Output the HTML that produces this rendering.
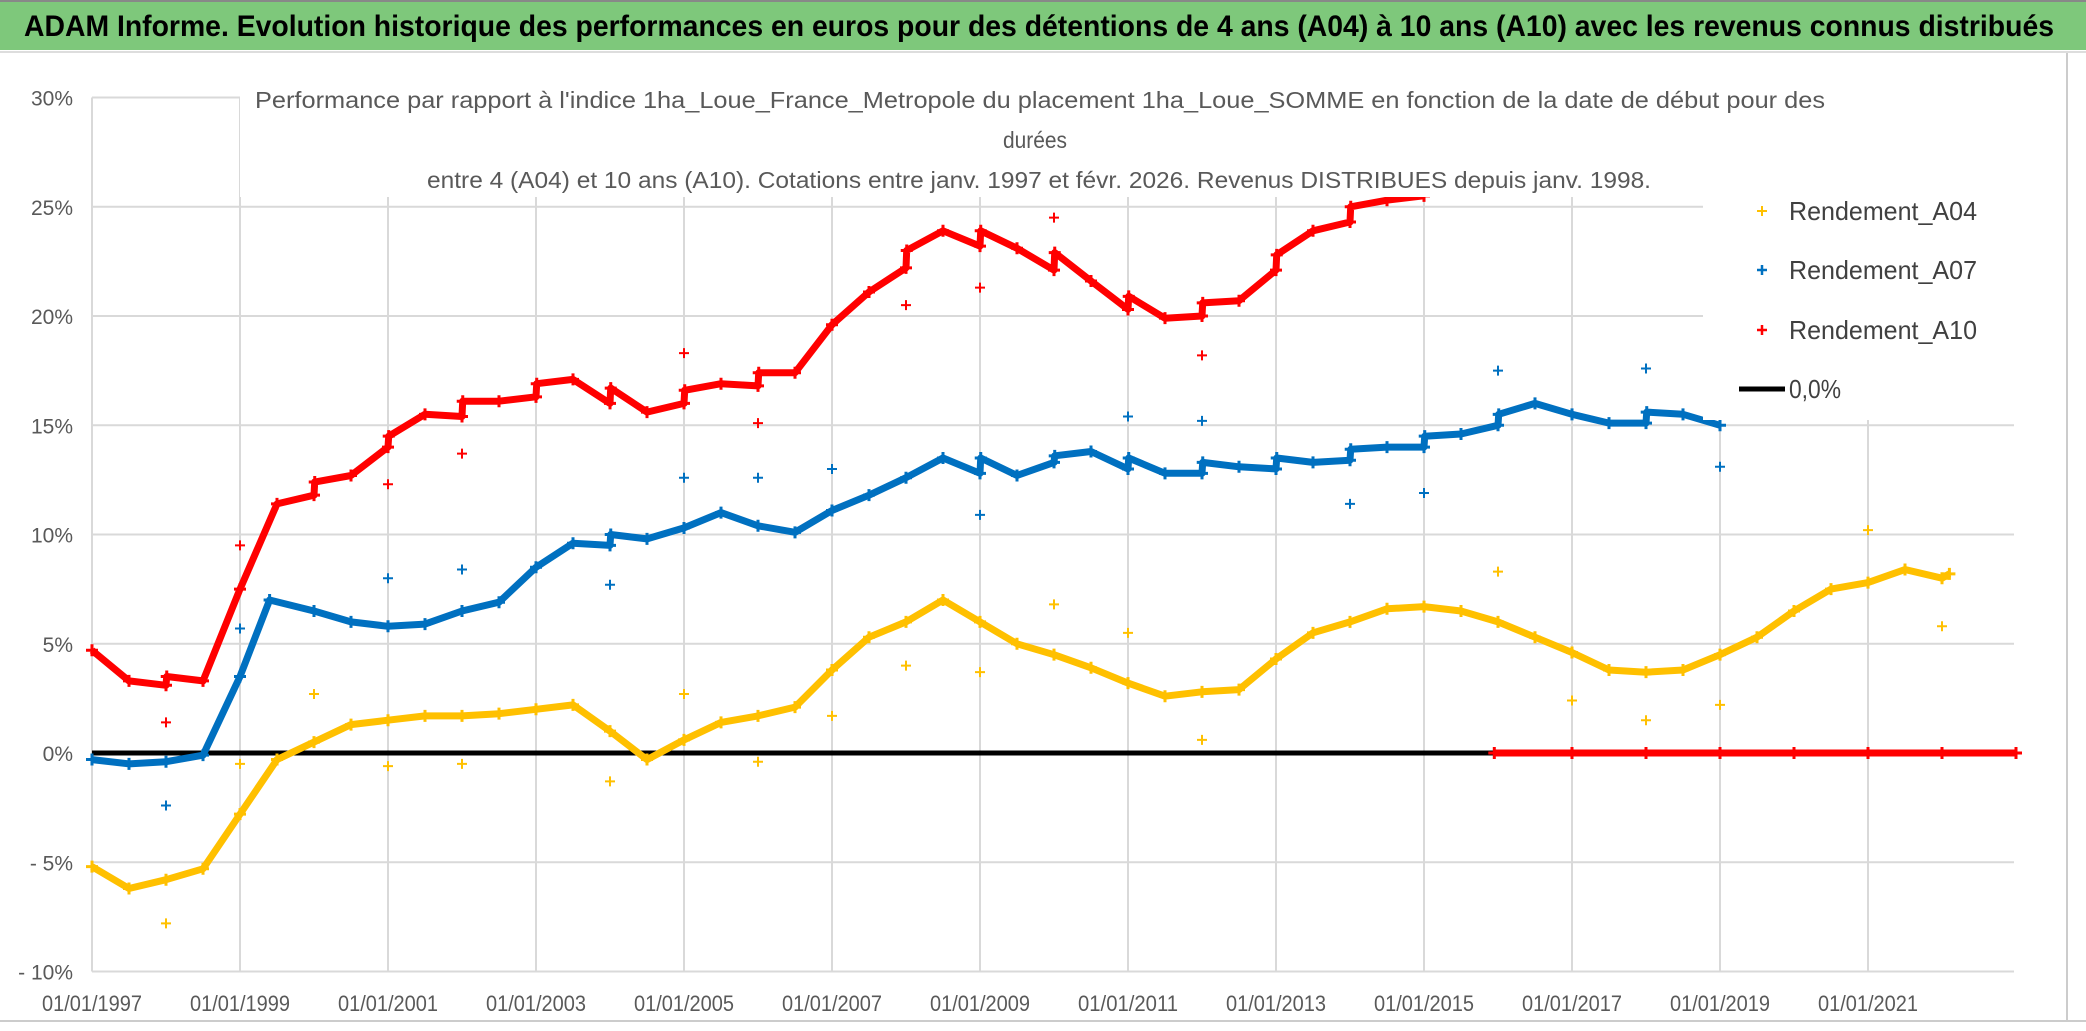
<!DOCTYPE html>
<html><head><meta charset="utf-8"><style>
html,body{margin:0;padding:0;background:#fff;}
svg{display:block;font-family:"Liberation Sans",sans-serif;}
</style></head><body>
<svg id="chart" width="2086" height="1031" viewBox="0 0 2086 1031">
<rect x="0" y="0" width="2086" height="1031" fill="#fff"/>
<rect x="0" y="0" width="2086" height="50" fill="#7ec87b"/>
<rect x="0" y="0" width="2086" height="2" fill="#888"/>
<rect x="0" y="51" width="2086" height="2" fill="#ddd"/>
<text x="24" y="36" font-size="30" font-weight="bold" fill="#000" textLength="2030" lengthAdjust="spacingAndGlyphs">ADAM Informe. Evolution historique des performances en euros pour des détentions de 4 ans (A04) à 10 ans (A10) avec les revenus connus distribués</text>
<rect x="2066" y="53" width="2" height="968" fill="#ccc"/>
<rect x="0" y="1020" width="2086" height="2" fill="#ccc"/>
<g id="grid"></g>
<g id="axes"></g>
<g id="series"></g>
<rect x="240" y="60" width="1803" height="137" fill="#fff"/>
<rect x="1703" y="196" width="340" height="224" fill="#fff"/>
<text x="255" y="108" font-size="23" fill="#595959" textLength="1570" lengthAdjust="spacingAndGlyphs">Performance par rapport à l'indice 1ha_Loue_France_Metropole  du placement 1ha_Loue_SOMME en fonction de la date de début pour des</text>
<text x="1003" y="148" font-size="23" fill="#595959" textLength="64" lengthAdjust="spacingAndGlyphs">durées</text>
<text x="427" y="188" font-size="23" fill="#595959" textLength="1224" lengthAdjust="spacingAndGlyphs">entre 4 (A04) et 10 ans (A10). Cotations entre janv. 1997 et févr. 2026. Revenus DISTRIBUES depuis janv. 1998.</text>
<g>
<g>
<path d="M1757 211h10M1762 206v10" stroke="#ffc000" stroke-width="2"/>
<text x="1789" y="220" font-size="26" fill="#404040" textLength="188" lengthAdjust="spacingAndGlyphs">Rendement_A04</text></g>
<g>
<path d="M1757 270h10M1762 265v10" stroke="#0070c0" stroke-width="2.5"/>
<text x="1789" y="279" font-size="26" fill="#404040" textLength="188" lengthAdjust="spacingAndGlyphs">Rendement_A07</text></g>
<g>
<path d="M1757 330h10M1762 325v10" stroke="#ff0000" stroke-width="2.5"/>
<text x="1789" y="339" font-size="26" fill="#404040" textLength="188" lengthAdjust="spacingAndGlyphs">Rendement_A10</text></g>
<g>
<line x1="1739" y1="389" x2="1785" y2="389" stroke="#000" stroke-width="5"/>
<text x="1789" y="398" font-size="26" fill="#404040" textLength="52" lengthAdjust="spacingAndGlyphs">0,0%</text></g>
</g>
</svg>
<script>
const yTicks=[30,25,20,15,10,5,0,-5,-10];
const yTickLabels=["30%","25%","20%","15%","10%","5%","0%","- 5%","- 10%"];
const xTicks=[1997,1999,2001,2003,2005,2007,2009,2011,2013,2015,2017,2019,2021];
const xTickLabels=["01/01/1997","01/01/1999","01/01/2001","01/01/2003","01/01/2005","01/01/2007","01/01/2009","01/01/2011","01/01/2013","01/01/2015","01/01/2017","01/01/2019","01/01/2021"];
const a04Dates=[1997,1997.5,1998,1998.5,1999,1999.5,2000,2000.5,2001,2001.5,2002,2002.5,2003,2003.5,2004,2004.5,2005,2005.5,2006,2006.5,2007,2007.5,2008,2008.5,2009,2009.5,2010,2010.5,2011,2011.5,2012,2012.5,2013,2013.5,2014,2014.5,2015,2015.5,2016,2016.5,2017,2017.5,2018,2018.5,2019,2019.5,2020,2020.5,2021,2021.5,2022,2022.1];
const a04Values=[-5.2,-6.2,-5.8,-5.3,-2.8,-0.3,0.5,1.3,1.5,1.7,1.7,1.8,2.0,2.2,1.0,-0.3,0.6,1.4,1.7,2.1,3.8,5.3,6.0,7.0,6.0,5.0,4.5,3.9,3.2,2.6,2.8,2.9,4.3,5.5,6.0,6.6,6.7,6.5,6.0,5.3,4.6,3.8,3.7,3.8,4.5,5.3,6.5,7.5,7.8,8.4,8.0,8.2];
const a04OutDates=[1998,1999,2000,2001,2002,2004,2005,2006,2007,2008,2009,2010,2011,2012,2016,2017,2018,2019,2021,2022];
const a04OutValues=[-7.8,-0.5,2.7,-0.6,-0.5,-1.3,2.7,-0.4,1.7,4.0,3.7,6.8,5.5,0.6,8.3,2.4,1.5,2.2,10.2,5.8];
const a07Dates=[1997,1997.5,1998,1998.5,1999,1999.4,2000,2000.5,2001,2001.5,2002,2002.5,2003,2003.5,2004,2004.01,2004.5,2005,2005.5,2006,2006.5,2007,2007.5,2008,2008.5,2009,2009.01,2009.5,2010,2010.01,2010.5,2011,2011.01,2011.5,2012,2012.01,2012.5,2013,2013.01,2013.5,2014,2014.01,2014.5,2015,2015.01,2015.5,2016,2016.01,2016.5,2017,2017.5,2018,2018.01,2018.5,2019];
const a07Values=[-0.3,-0.5,-0.4,-0.1,3.5,7.0,6.5,6.0,5.8,5.9,6.5,6.9,8.5,9.6,9.5,10.0,9.8,10.3,11.0,10.4,10.1,11.1,11.8,12.6,13.5,12.8,13.5,12.7,13.3,13.6,13.8,13.0,13.5,12.8,12.8,13.3,13.1,13.0,13.5,13.3,13.4,13.9,14.0,14.0,14.5,14.6,15.0,15.5,16.0,15.5,15.1,15.1,15.6,15.5,15.0];
const a07OutDates=[1998,1999,2001,2002,2004,2005,2006,2007,2009,2011,2012,2014,2015,2016,2018,2019];
const a07OutValues=[-2.4,5.7,8.0,8.4,7.7,12.6,12.6,13.0,10.9,15.4,15.2,11.4,11.9,17.5,17.6,13.1];
const a10Dates=[1997,1997.5,1998,1998.01,1998.5,1999,1999.5,2000,2000.01,2000.5,2001,2001.01,2001.5,2002,2002.01,2002.5,2003,2003.01,2003.5,2004,2004.01,2004.5,2005,2005.01,2005.5,2006,2006.01,2006.5,2007,2007.5,2008,2008.01,2008.5,2009,2009.01,2009.5,2010,2010.01,2010.5,2011,2011.01,2011.5,2012,2012.01,2012.5,2013,2013.01,2013.5,2014,2014.01,2014.5,2015];
const a10Values=[4.7,3.3,3.1,3.5,3.3,7.5,11.4,11.8,12.4,12.7,14.0,14.5,15.5,15.4,16.1,16.1,16.3,16.9,17.1,16.0,16.7,15.6,16.0,16.6,16.9,16.8,17.4,17.4,19.6,21.1,22.2,23.0,23.9,23.2,23.9,23.1,22.1,22.9,21.6,20.3,20.9,19.9,20.0,20.6,20.7,22.1,22.8,23.9,24.3,25.0,25.3,25.5];
const a10ZeroDates=[2015.95,2017,2018,2019,2020,2021,2022,2023];
const a10ZeroValues=[0,0,0,0,0,0,0,0];
const a10OutDates=[1998,1999,2001,2002,2005,2006,2008,2009,2010,2012];
const a10OutValues=[1.4,9.5,12.3,13.7,18.3,15.1,20.5,21.3,24.5,18.2];

const NS="http://www.w3.org/2000/svg";
const X0=92,XPY=74,Y0=753,YPP=21.85,XR=2014;
function xs(d){return X0+(d-1997)*XPY;}
function ys(v){return Y0-v*YPP;}
function mk(tag,attrs,parent){const e=document.createElementNS(NS,tag);for(const k in attrs)e.setAttribute(k,attrs[k]);parent.appendChild(e);return e;}
const grid=document.getElementById('grid'),axes=document.getElementById('axes'),ser=document.getElementById('series');
yTicks.forEach((t,i)=>{
  const l=mk('line',{x1:X0,x2:XR,y1:ys(t),y2:ys(t),stroke:'#d9d9d9','stroke-width':2},grid);
  
  
  const tx=mk('text',{x:73,y:ys(t)+8,'font-size':21,fill:'#595959','text-anchor':'end'},axes);
  tx.textContent=yTickLabels[i];
  
  
});
xTicks.forEach((t,i)=>{
  const l=mk('line',{x1:xs(t),x2:xs(t),y1:ys(30),y2:ys(-10),stroke:'#d9d9d9','stroke-width':2},grid);
  
  
  const tx=mk('text',{x:xs(t)-50,y:1011,'font-size':22,fill:'#595959',textLength:100,lengthAdjust:'spacingAndGlyphs'},axes);
  tx.textContent=xTickLabels[i];
  
  
});
const zl=mk('line',{x1:X0,x2:XR,y1:ys(0),y2:ys(0),stroke:'#000','stroke-width':5},ser);


function line(dates,vals,color,name){
  const pts=dates.map((d,i)=>xs(d).toFixed(1)+','+ys(vals[i]).toFixed(1)).join(' ');
  const p=mk('polyline',{points:pts,fill:'none',stroke:color,'stroke-width':7,'stroke-linejoin':'round'},ser);
  
  
  dates.forEach((d,i)=>{
    const x=xs(d),y=ys(vals[i]);
    const m=mk('path',{d:`M${x-6} ${y}h12M${x} ${y-6}v12`,stroke:color,'stroke-width':3},ser);
    
    
  });
}
function outs(dates,vals,color,name){
  dates.forEach((d,i)=>{
    const x=xs(d),y=ys(vals[i]);
    const m=mk('path',{d:`M${x-5} ${y}h10M${x} ${y-5}v10`,stroke:color,'stroke-width':2},ser);
    
    
  });
}
line(a04Dates,a04Values,'#ffc000','series-a04');
outs(a04OutDates,a04OutValues,'#ffc000','a04-outlier');
line(a07Dates,a07Values,'#0070c0','series-a07');
outs(a07OutDates,a07OutValues,'#0070c0','a07-outlier');
line(a10Dates,a10Values,'#ff0000','series-a10');
line(a10ZeroDates,a10ZeroValues,'#ff0000','series-a10-zero');
outs(a10OutDates,a10OutValues,'#ff0000','a10-outlier');
</script>
</body></html>
